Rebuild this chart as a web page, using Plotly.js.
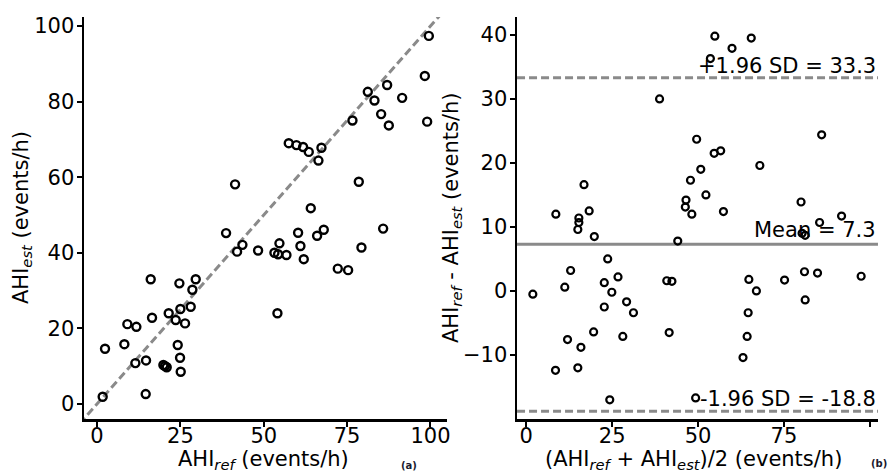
<!DOCTYPE html>
<html>
<head>
<meta charset="utf-8">
<script src="https://cdn.plot.ly/plotly-3.0.1.min.js"></script>
<style>html,body{margin:0;padding:0;background:#fff;}#chart{width:889px;height:472px;}</style>
</head>
<body>
<div id="chart"></div>
<script>
// Panel (a): reference vs estimated AHI
const ahiRef = [99.5, 98.3, 99.0, 81.2, 83.2, 87.0, 91.5, 85.2, 87.5, 76.6,
  57.5, 59.8, 61.8, 63.5, 67.3, 66.4, 41.4, 78.5, 64.1, 38.7,
  60.3, 68.0, 66.0, 85.8, 43.6, 42.0, 48.3, 53.2, 54.7, 54.3,
  56.8, 61.0, 62.0, 72.2, 75.3, 79.3, 54.1, 16.1, 24.7, 29.6,
  28.6, 25.0, 28.1, 21.5, 23.6, 26.4, 16.5, 9.1, 11.8, 8.2,
  2.4, 24.2, 24.9, 25.1, 11.5, 14.7, 19.9, 20.9, 20.4, 14.6, 1.7];
const ahiEst = [97.4, 86.8, 74.7, 82.6, 80.3, 84.4, 81.0, 76.7, 73.7, 75.0,
  69.0, 68.5, 68.0, 66.7, 67.8, 64.4, 58.1, 58.8, 51.8, 45.2,
  45.3, 46.1, 44.5, 46.4, 42.1, 40.3, 40.6, 40.0, 42.5, 39.6,
  39.4, 41.8, 38.3, 35.8, 35.4, 41.4, 24.0, 33.0, 31.9, 33.0,
  30.2, 25.1, 25.7, 24.0, 22.2, 21.3, 22.8, 21.1, 20.4, 15.8,
  14.6, 15.6, 12.2, 8.5, 10.8, 11.5, 10.3, 9.7, 10.0, 2.6, 1.9];

// Panel (b): Bland-Altman
const baMean = [38.8, 49.6, 47.8, 50.8, 46.5, 46.3, 48.2, 16.8, 8.6, 18.3,
  15.3, 15.3, 15.0, 19.8, 44.1, 23.7, 12.9, 26.7, 22.7, 11.2,
  1.9, 24.9, 40.9, 42.4, 29.2, 22.7, 31.2, 19.6, 28.1, 41.6,
  12.0, 15.9, 8.5, 15.0, 24.3, 49.3, 54.9, 65.5, 59.9, 53.6,
  86.0, 54.7, 56.6, 68.0, 52.3, 57.4, 80.0, 91.8, 85.4, 80.3,
  81.2, 64.8, 67.0, 75.2, 81.0, 84.8, 97.5, 81.2, 64.6, 64.3, 63.1];
const baDiff = [30.0, 23.7, 17.3, 19.0, 14.2, 13.1, 12.0, 16.6, 12.0, 12.5,
  11.4, 10.7, 9.6, 8.5, 7.8, 5.0, 3.2, 2.2, 1.3, 0.6,
  -0.5, -0.2, 1.6, 1.5, -1.7, -2.5, -3.4, -6.4, -7.1, -6.5,
  -7.6, -8.8, -12.4, -12.0, -17.0, -16.7, 39.8, 39.5, 37.9, 36.3,
  24.4, 21.5, 21.9, 19.6, 15.0, 12.4, 13.9, 11.7, 10.7, 9.0,
  8.7, 1.8, 0.0, 1.7, 3.0, 2.8, 2.3, -1.4, -3.4, -7.1, -10.4];

const meanDiff = 7.3;
const upperLoA = 33.3;
const lowerLoA = -18.8;
const identityLine = [-10, 110];

const xTicks = [0, 25, 50, 75, 100];
const yTicksA = [0, 20, 40, 60, 80, 100];
const yTicksB = [-10, 0, 10, 20, 30, 40];

const titleXA = 'AHI<sub><i>ref</i></sub> (events/h)';
const titleYA = 'AHI<sub><i>est</i></sub> (events/h)';
const titleXB = '(AHI<sub><i>ref</i></sub> + AHI<sub><i>est</i></sub>)/2 (events/h)';
const titleYB = 'AHI<sub><i>ref</i></sub> - AHI<sub><i>est</i></sub> (events/h)';

const FONT = 'DejaVu Sans, sans-serif';
const FS = 21;
const gray = '#8a8a8a';
const tf = {family: FONT, size: FS, color: '#000'};

const traces = [
  {x: ahiRef, y: ahiEst, xaxis: 'x', yaxis: 'y', type: 'scatter', mode: 'markers',
   marker: {symbol: 'circle-open', size: 8, color: '#000', line: {width: 2.4, color: '#000'}}, cliponaxis: false},
  {x: baMean, y: baDiff, xaxis: 'x2', yaxis: 'y2', type: 'scatter', mode: 'markers',
   marker: {symbol: 'circle-open', size: 7, color: '#000', line: {width: 2.2, color: '#000'}}, cliponaxis: false}
];

function axisBase(extra) {
  return Object.assign({
    showline: true, linecolor: '#000', linewidth: 2.5, mirror: false,
    ticks: 'outside', ticklen: 5, tickwidth: 2, tickcolor: '#000',
    showgrid: false, zeroline: false, automargin: false,
    tickfont: tf, tickmode: 'array'
  }, extra);
}

const layout = {
  width: 889, height: 472,
  margin: {l: 0, r: 0, t: 17, b: 53},
  paper_bgcolor: '#fff', plot_bgcolor: '#fff',
  showlegend: false,
  font: {family: FONT, color: '#000'},
  xaxis: axisBase({domain: [0.0945, 0.503], range: [-3.9, 105], anchor: 'y', tickvals: xTicks, ticklabelstandoff: -9}),
  yaxis: axisBase({domain: [0, 1], range: [-4, 102.4], anchor: 'x', tickvals: yTicksA, ticklabelstandoff: -2}),
  xaxis2: axisBase({domain: [0.5816, 0.9876], range: [-2.7, 102.4], anchor: 'y2', tickvals: xTicks, ticklabelstandoff: -9}),
  yaxis2: axisBase({domain: [0, 1], range: [-20, 42.8], anchor: 'x2', tickvals: yTicksB, ticklabelstandoff: -2}),
  shapes: [
    {type: 'line', xref: 'x', yref: 'y', x0: identityLine[0], y0: identityLine[0], x1: identityLine[1], y1: identityLine[1],
     line: {color: gray, width: 3, dash: '8px,4px'}, layer: 'below'},
    {type: 'line', xref: 'x2 domain', yref: 'y2', x0: 0, x1: 1, y0: upperLoA, y1: upperLoA,
     line: {color: gray, width: 3, dash: '8px,4px'}, layer: 'below'},
    {type: 'line', xref: 'x2 domain', yref: 'y2', x0: 0, x1: 1, y0: meanDiff, y1: meanDiff,
     line: {color: gray, width: 3}, layer: 'below'},
    {type: 'line', xref: 'x2 domain', yref: 'y2', x0: 0, x1: 1, y0: lowerLoA, y1: lowerLoA,
     line: {color: gray, width: 3, dash: '8px,4px'}, layer: 'below'}
  ],
  annotations: [
    {xref: 'x2 domain', yref: 'y2', x: 1, y: upperLoA, xanchor: 'right', yanchor: 'bottom', yshift: -2,
     text: '+1.96 SD = ' + upperLoA.toFixed(1), showarrow: false, font: tf},
    {xref: 'x2 domain', yref: 'y2', x: 1, y: meanDiff, xanchor: 'right', yanchor: 'bottom', yshift: 0,
     text: 'Mean = ' + meanDiff.toFixed(1), showarrow: false, font: tf},
    {xref: 'x2 domain', yref: 'y2', x: 1, y: lowerLoA, xanchor: 'right', yanchor: 'bottom', yshift: -2,
     text: '-1.96 SD = ' + lowerLoA.toFixed(1), showarrow: false, font: tf},
    // axis titles
    {xref: 'paper', yref: 'paper', x: 263/889, y: -41/402, xanchor: 'center', yanchor: 'middle',
     text: titleXA, showarrow: false, font: tf},
    {xref: 'paper', yref: 'paper', x: 693/889, y: -41/402, xanchor: 'center', yanchor: 'middle',
     text: titleXB, showarrow: false, font: tf},
    {xref: 'paper', yref: 'paper', x: 22/889, y: 0.5, xanchor: 'center', yanchor: 'middle', textangle: -90,
     text: titleYA, showarrow: false, font: tf},
    {xref: 'paper', yref: 'paper', x: 452/889, y: 0.5, xanchor: 'center', yanchor: 'middle', textangle: -90,
     text: titleYB, showarrow: false, font: tf},
    {xref: 'paper', yref: 'paper', x: 409/889, y: -46/402, xanchor: 'center', yanchor: 'middle',
     text: '<b>(a)</b>', showarrow: false, font: {family: FONT, size: 10, color: '#1a1a2e'}},
    {xref: 'paper', yref: 'paper', x: 879/889, y: -44/402, xanchor: 'center', yanchor: 'middle',
     text: '<b>(b)</b>', showarrow: false, font: {family: FONT, size: 10, color: '#1a1a2e'}}
  ]
};

Plotly.newPlot('chart', traces, layout, {staticPlot: true, displayModeBar: false});
</script>
</body>
</html>
